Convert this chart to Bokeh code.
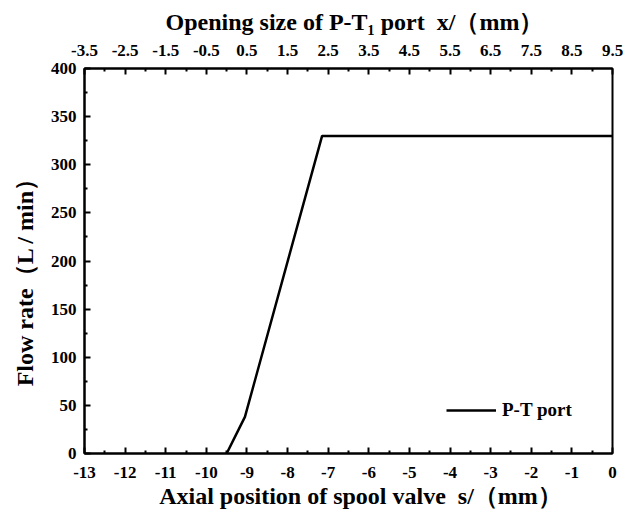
from bokeh.plotting import figure
from bokeh.models import Range1d, LinearAxis, FixedTicker, Legend, LegendItem
from bokeh.embed import file_html
from bokeh.resources import INLINE

NB = "\u00a0"

# Data
s_pos = [-9.5, -9.05, -7.15, 0.0]
flow = [0, 38, 330, 330]
bottom_ticks = list(range(-13, 1))
top_ticks = [-3.5, -2.5, -1.5, -0.5, 0.5, 1.5, 2.5, 3.5, 4.5, 5.5, 6.5, 7.5, 8.5, 9.5]
y_ticks = [0, 50, 100, 150, 200, 250, 300, 350, 400]
series_name = "P-T port"
bottom_title = "Axial position of spool valve" + NB * 2 + "s/（mm）"
top_title = "Opening size of P-T\u2081 port" + NB * 2 + "x/（mm）"
left_title = "Flow rate（L / min）"

FONT = "Liberation Serif"

p = figure(frame_width=528, frame_height=385, output_backend="svg", toolbar_location=None,
           x_range=Range1d(-13, 0), y_range=Range1d(0, 400),
           x_axis_location=None, y_axis_location=None,
           min_border_left=84, min_border_right=24, min_border_top=68, min_border_bottom=61)
p.extra_x_ranges = {"top": Range1d(-3.5, 9.5)}

bottom_axis = LinearAxis(axis_label=NB * 4 + bottom_title)
left_axis = LinearAxis(axis_label=left_title + NB * 5)
top_axis = LinearAxis(x_range_name="top", axis_label=NB * 2 + top_title)
p.add_layout(bottom_axis, "below")
p.add_layout(left_axis, "left")
p.add_layout(top_axis, "above")

p.grid.visible = False
p.outline_line_color = "black"
p.outline_line_width = 2
p.background_fill_color = "white"
p.border_fill_color = "white"

r = p.line(s_pos, flow, line_color="black", line_width=2.5)

bottom_axis.ticker = FixedTicker(ticks=bottom_ticks, minor_ticks=[t + 0.5 for t in bottom_ticks[:-1]])
bottom_axis.major_label_overrides = {t: str(t) for t in bottom_ticks}
top_axis.ticker = FixedTicker(ticks=top_ticks, minor_ticks=[t + 0.5 for t in top_ticks[:-1]])
top_axis.major_label_overrides = {t: str(t) for t in top_ticks}
left_axis.ticker = FixedTicker(ticks=y_ticks, minor_ticks=[t + 25 for t in y_ticks[:-1]])

for ax in [bottom_axis, top_axis, left_axis]:
    ax.axis_line_width = 2
    ax.axis_line_color = "black"
    ax.major_tick_in = 6
    ax.major_tick_out = 0
    ax.minor_tick_in = 3
    ax.minor_tick_out = 0
    ax.major_tick_line_width = 2
    ax.minor_tick_line_width = 2
    ax.major_label_text_font = FONT
    ax.major_label_text_font_style = "bold"
    ax.major_label_text_font_size = "17px"
    ax.major_label_text_color = "black"
    ax.axis_label_text_font = FONT
    ax.axis_label_text_font_style = "bold"
    ax.axis_label_text_font_size = "24px"
    ax.axis_label_text_color = "black"

bottom_axis.major_label_standoff = 13
bottom_axis.axis_label_standoff = 2
top_axis.major_label_standoff = 13
top_axis.axis_label_standoff = 7
left_axis.major_label_standoff = 8
left_axis.axis_label_standoff = 10

legend = Legend(items=[LegendItem(label=series_name, renderers=[r])],
                location=(352, 22), border_line_alpha=0, background_fill_alpha=0,
                glyph_width=50, label_text_font=FONT, label_text_font_style="bold",
                label_text_font_size="19px", label_text_color="black", label_standoff=6)
p.add_layout(legend)

open("out.html", "w").write(file_html(p, INLINE))
